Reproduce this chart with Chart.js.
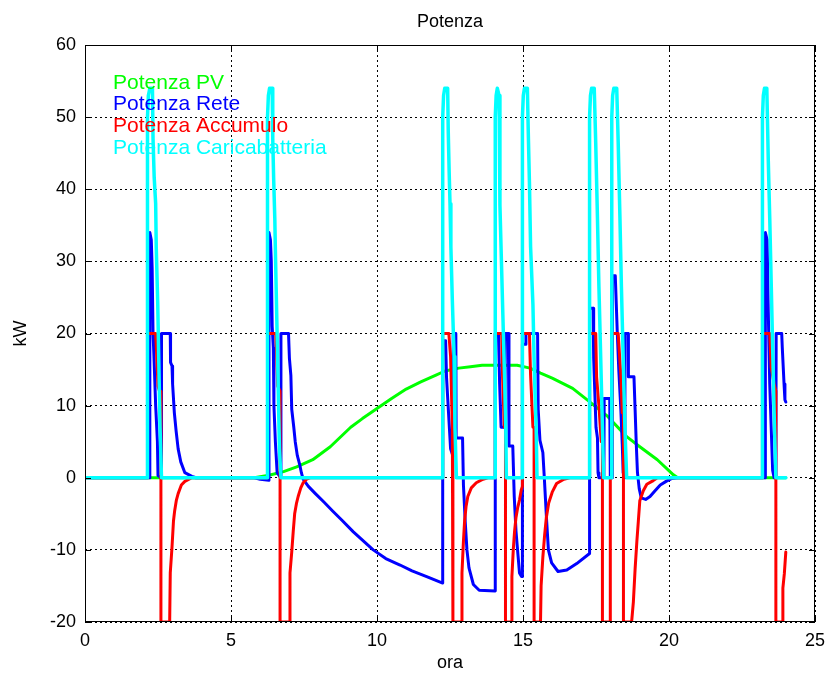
<!DOCTYPE html>
<html>
<head>
<meta charset="utf-8">
<title>Potenza</title>
<script src="https://cdn.jsdelivr.net/npm/chart.js@4.4.1/dist/chart.umd.min.js"></script>
<style>
  html, body { margin: 0; padding: 0; background: #fff; }
  #wrap { width: 825px; height: 677px; }
</style>
</head>
<body>
<div id="wrap"><canvas id="chart-potenza" width="825" height="677"></canvas></div>
<script>
// ore del giorno / kW
const tickOre = [0, 5, 10, 15, 20, 25];
const tickKW = [-20, -10, 0, 10, 20, 30, 40, 50, 60];

const potenzaPV = [
    [0, 0], [5.8, 0], [6.3, 0.35], [6.8, 0.85], [7.25, 1.5], [7.8, 2.5], [8.4, 4.3], [9.1, 7.0],
    [9.5, 8.2], [10.0, 9.6], [10.5, 11.0], [11.0, 12.3], [11.5, 13.3], [12.0, 14.2], [12.33, 14.8],
    [12.8, 15.2], [13.2, 15.4], [13.6, 15.6], [14.1, 15.6], [14.8, 15.6], [15.24, 15.2], [15.6, 14.5],
    [16.0, 13.8], [16.7, 12.4], [17.2, 10.8], [17.9, 8.5], [18.55, 5.7], [19.0, 4.3], [19.6, 2.5],
    [20.15, 0.4], [20.3, 0], [24, 0]
];

const potenzaRete = [
    [0, 0], [2.22, 0], [2.22, 34], [2.27, 33], [2.3, 29], [2.33, 20], [2.36, 17], [2.42, 10], [2.48, 5],
    [2.5, 0.3], [2.61, 0], [2.62, 20], [2.92, 20], [2.93, 16], [2.98, 15.5], [3.0, 13], [3.06, 9],
    [3.12, 6.5], [3.19, 4], [3.28, 2.2], [3.42, 0.7], [3.66, 0.2], [3.8, 0],
    [5.8, 0], [6.0, -0.2], [6.3, -0.35], [6.3, 34], [6.35, 33], [6.38, 30], [6.41, 21], [6.45, 18],
    [6.47, 10], [6.52, 5], [6.58, 0.7], [6.7, 0], [6.71, 20], [6.97, 20], [7.0, 16.6], [7.05, 14.2],
    [7.08, 9.5], [7.15, 7], [7.2, 5], [7.27, 3.1], [7.36, 1.7], [7.41, 0.7], [7.47, -0.2], [7.65, -1.2],
    [7.89, -2.2], [8.19, -3.4], [8.48, -4.6], [8.8, -5.9], [9.19, -7.5], [9.87, -10], [10.3, -11.2],
    [10.79, -12.1], [11.2, -12.9], [11.7, -13.7], [12.25, -14.6],
    [12.25, 19], [12.35, 19], [12.38, 14], [12.45, 9], [12.52, 4], [12.6, 3], [12.61, 20], [12.7, 20],
    [12.71, 5.5], [12.93, 5.5], [12.96, -1], [13.02, -6], [13.08, -10], [13.15, -12.5], [13.3, -14.8],
    [13.5, -15.6], [14.05, -15.7],
    [14.05, 20], [14.16, 20], [14.2, 13], [14.25, 7], [14.37, 7], [14.4, 20], [14.5, 20], [14.52, 4.4],
    [14.65, 4.4], [14.7, -2.6], [14.76, -7.4], [14.83, -10.8], [14.88, -13.2], [14.95, -13.7], [14.98, -13.7],
    [14.98, 18.5], [15.08, 18.5], [15.1, 20], [15.5, 20], [15.52, 9.5], [15.58, 5.2], [15.68, 3.5],
    [15.73, 0], [15.77, -3], [15.81, -6], [15.87, -10], [15.98, -11.8], [16.2, -13], [16.5, -12.8],
    [16.84, -11.9], [17.28, -10.5],
    [17.28, 23.5], [17.4, 23.5], [17.42, 16.6], [17.46, 11.8], [17.5, 7], [17.55, 5.5], [17.57, 0.7],
    [17.6, 0], [17.77, 0], [17.78, 11], [17.97, 11], [17.99, 0], [18.06, 0],
    [18.06, 28], [18.16, 28], [18.23, 20], [18.28, 15], [18.35, 9.5], [18.4, 4.6], [18.43, 0.7],
    [18.48, 0], [18.49, 20], [18.6, 20], [18.61, 14], [18.8, 14], [18.84, 9.4], [18.88, 4.6],
    [18.92, 0.7], [18.98, -1.5], [19.05, -2.8], [19.2, -3.0], [19.35, -2.6], [19.5, -1.9], [19.7, -1.0],
    [19.9, -0.5], [20.1, -0.1], [20.3, 0],
    [23.3, 0], [23.3, 34], [23.36, 33], [23.4, 23], [23.45, 13], [23.5, 7], [23.55, 1], [23.6, 0],
    [23.66, 0], [23.67, 20], [23.86, 20], [23.88, 18], [23.94, 13], [23.97, 10.8], [24.0, 10.5]
];

const potenzaAccumulo = [
    [0, 0], [2.14, 0], [2.14, 20], [2.42, 20], [2.45, 17.5], [2.5, 12.7], [2.55, 12], [2.6, 12],
    [2.6, -20], [2.9, -20], [2.92, -13.2], [2.98, -9.6], [3.03, -6], [3.07, -4.6], [3.13, -3.1],
    [3.19, -2.2], [3.3, -1], [3.42, -0.5], [3.66, 0],
    [6.25, 0], [6.25, 20], [6.53, 20], [6.56, 17.5], [6.6, 12.7], [6.68, 12], [6.68, -20], [7.0, -20],
    [7.02, -13.2], [7.08, -10.3], [7.13, -7.5], [7.18, -5], [7.24, -3.6], [7.3, -2.6], [7.39, -1.4],
    [7.47, -0.7], [7.59, -0.2], [7.71, 0],
    [12.25, 0], [12.25, 20], [12.46, 20], [12.52, 16.8], [12.58, 7], [12.6, 7], [12.6, -20], [12.89, -20],
    [12.91, -13.2], [12.96, -8.8], [13.0, -6], [13.05, -4], [13.11, -2.6], [13.23, -1.4], [13.4, -0.7],
    [13.63, -0.2], [13.8, 0],
    [14.05, 0], [14.05, 20], [14.27, 20], [14.3, 14.2], [14.36, 7], [14.4, 7], [14.4, -20], [14.6, -20],
    [14.62, -13.7], [14.67, -9.8], [14.71, -7.5], [14.76, -5.5], [14.82, -4.1], [14.88, -3.1],
    [14.94, -1.7], [14.98, -1.2],
    [14.98, 20], [15.22, 20], [15.26, 14.2], [15.34, 7], [15.38, 7], [15.38, -20], [15.6, -20],
    [15.62, -15], [15.68, -11], [15.74, -8], [15.8, -5.5], [15.88, -3.5], [16.0, -2], [16.15, -0.8],
    [16.4, -0.2], [16.6, 0],
    [17.28, 0], [17.28, 20], [17.49, 20], [17.52, 14], [17.6, 10], [17.68, 5], [17.72, 5], [17.72, -20],
    [17.98, -20], [17.99, 0], [18.04, 0],
    [18.04, 20], [18.26, 20], [18.35, 14.2], [18.4, 9], [18.44, 9], [18.44, -20], [18.72, -20],
    [18.78, -17.2], [18.84, -12.6], [18.9, -8.8], [18.95, -6], [19.0, -3.2], [19.12, -1.8], [19.24, -0.9],
    [19.46, -0.4], [19.6, 0],
    [23.2, 0], [23.2, 20], [23.45, 20], [23.5, 15.3], [23.6, 13], [23.66, 12], [23.66, -20], [23.87, -20],
    [23.9, -15.3], [23.95, -13.3], [24.0, -10.3]
];

const potenzaCaricabatteria = [
    [0, 0],
    [2.14, 0], [2.14, 50], [2.17, 53], [2.22, 54], [2.31, 54], [2.33, 47], [2.37, 41.6], [2.42, 38],
    [2.44, 32], [2.49, 24.3], [2.53, 15.7], [2.57, 7], [2.62, 0],
    [6.25, 0], [6.25, 50], [6.28, 53], [6.32, 54], [6.41, 54], [6.43, 47], [6.46, 41.6], [6.5, 36],
    [6.52, 31.5], [6.57, 21.7], [6.62, 11.8], [6.66, 4], [6.71, 0],
    [12.25, 0], [12.25, 50], [12.28, 53], [12.32, 54], [12.42, 54], [12.44, 48], [12.47, 42.6], [12.5, 38],
    [12.53, 32], [12.58, 24.6], [12.64, 16.8], [12.67, 7], [12.72, 0],
    [14.05, 0], [14.05, 50], [14.08, 53], [14.12, 54], [14.18, 53], [14.21, 37.8], [14.26, 30.2],
    [14.31, 22.6], [14.37, 13.7], [14.41, 7], [14.43, 0],
    [14.98, 0], [14.98, 50], [15.01, 53], [15.05, 54], [15.15, 54], [15.18, 48], [15.22, 41], [15.26, 32],
    [15.34, 24], [15.39, 14.6], [15.45, 7], [15.48, 0],
    [17.28, 0], [17.28, 50], [17.31, 53], [17.35, 54], [17.44, 54], [17.49, 46.5], [17.55, 36], [17.6, 26.5],
    [17.66, 16.8], [17.72, 7], [17.76, 0],
    [18.04, 0], [18.04, 50], [18.07, 53], [18.11, 54], [18.21, 54], [18.26, 46.5], [18.32, 36], [18.37, 26.5],
    [18.43, 16.8], [18.49, 7], [18.55, 0],
    [23.2, 0], [23.2, 50], [23.23, 53], [23.27, 54], [23.35, 54], [23.4, 44], [23.45, 36], [23.5, 27],
    [23.55, 18], [23.6, 9], [23.66, 0], [24, 0]
];

const nomiSerie = ['Potenza PV', 'Potenza Rete', 'Potenza Accumulo', 'Potenza Caricabatteria'];
const coloriSerie = ['#00ff00', '#0000ff', '#ff0000', '#00ffff'];
const spessori = [3, 3, 3, 3.5];

const FONT = '"Liberation Sans", Arial, Helvetica, sans-serif';

function toPoints(arr) {
    return arr.map(([x, y]) => ({ x, y }));
}

// box + tacche interne stile matlab, titolo centrato sugli assi, legenda testuale
const matlabFrame = {
    id: 'matlabFrame',
    afterDraw(chart) {
        const { ctx, chartArea: a, scales } = chart;
        ctx.save();
        ctx.strokeStyle = '#000';
        ctx.lineWidth = 1;
        ctx.setLineDash([]);
        ctx.strokeRect(Math.round(a.left) + 0.5, Math.round(a.top) + 0.5,
            Math.round(a.width) - 1, Math.round(a.height) - 1);
        const tl = 6;
        ctx.beginPath();
        tickOre.forEach(v => {
            const px = Math.round(scales.x.getPixelForValue(v)) + 0.5;
            ctx.moveTo(px, a.bottom); ctx.lineTo(px, a.bottom - tl);
            ctx.moveTo(px, a.top); ctx.lineTo(px, a.top + tl);
        });
        tickKW.forEach(v => {
            const py = Math.round(scales.y.getPixelForValue(v)) + 0.5;
            ctx.moveTo(a.left, py); ctx.lineTo(a.left + tl, py);
            ctx.moveTo(a.right, py); ctx.lineTo(a.right - tl, py);
        });
        ctx.stroke();

        ctx.fillStyle = '#000';
        ctx.font = '18px ' + FONT;
        ctx.textAlign = 'center';
        ctx.textBaseline = 'middle';
        ctx.fillText('Potenza', (a.left + a.right) / 2, 22);

        ctx.font = '21px ' + FONT;
        ctx.textAlign = 'left';
        nomiSerie.forEach((nome, i) => {
            ctx.fillStyle = coloriSerie[i];
            ctx.fillText(nome, a.left + 28, a.top + 38 + i * 21.7);
        });
        ctx.restore();
    }
};

const ordine = [4, 3, 2, 1];
const serie = [potenzaPV, potenzaRete, potenzaAccumulo, potenzaCaricabatteria];

new Chart(document.getElementById('chart-potenza').getContext('2d'), {
    type: 'line',
    data: {
        datasets: serie.map((s, i) => ({
            label: nomiSerie[i],
            data: toPoints(s),
            borderColor: coloriSerie[i],
            backgroundColor: coloriSerie[i],
            borderWidth: spessori[i],
            borderJoinStyle: 'round',
            borderCapStyle: 'round',
            pointRadius: 0,
            tension: 0,
            fill: false,
            order: ordine[i]
        }))
    },
    options: {
        responsive: false,
        animation: false,
        events: [],
        layout: { padding: { left: 0, right: 0, top: 45, bottom: 0 } },
        plugins: {
            legend: { display: false },
            tooltip: { enabled: false },
            title: { display: false }
        },
        scales: {
            x: {
                type: 'linear',
                min: 0,
                max: 25,
                afterBuildTicks(scale) { scale.ticks = tickOre.map(v => ({ value: v })); },
                afterFit(scale) {
                    scale.height = 55;
                    scale.paddingRight = 10;
                    scale.paddingLeft = 0;
                },
                ticks: { color: '#000', font: { family: FONT, size: 18 }, padding: 8, maxRotation: 0 },
                grid: { color: '#000', lineWidth: 1, drawTicks: false },
                border: { display: false, dash: [2, 3] },
                title: {
                    display: true, text: 'ora', color: '#000',
                    font: { family: FONT, size: 18 }, padding: { top: 0, bottom: 3 }
                }
            },
            y: {
                type: 'linear',
                min: -20,
                max: 60,
                afterBuildTicks(scale) { scale.ticks = tickKW.map(v => ({ value: v })); },
                afterFit(scale) { scale.width = 85; },
                ticks: { color: '#000', font: { family: FONT, size: 18 }, padding: 9 },
                grid: { color: '#000', lineWidth: 1, drawTicks: false },
                border: { display: false, dash: [2, 3] },
                title: {
                    display: true, text: 'kW', color: '#000',
                    font: { family: FONT, size: 18 }, padding: { top: 10, bottom: 0 }
                }
            }
        }
    },
    plugins: [matlabFrame]
});
</script>
</body>
</html>
